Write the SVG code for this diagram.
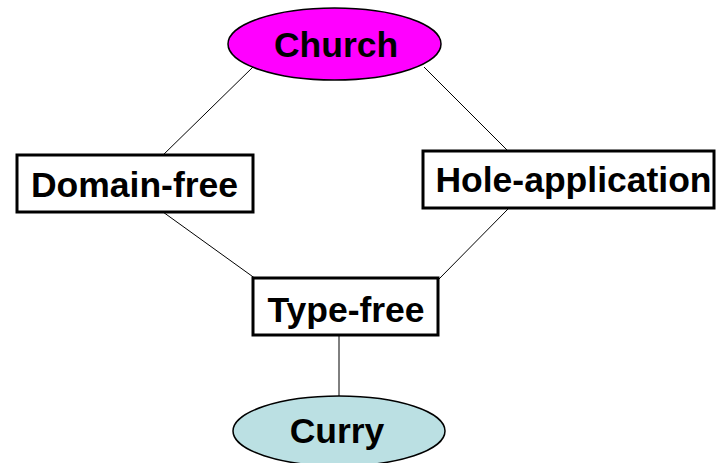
<svg xmlns="http://www.w3.org/2000/svg" width="716" height="463" viewBox="0 0 716 463">
<style>
.lbl{font-family:"Liberation Sans",Arial,sans-serif;font-weight:bold;font-size:35.5px;fill:#000;text-anchor:middle}
.box{fill:#fff;stroke:#000;stroke-width:3}
.ell{stroke:#000;stroke-width:1.5}
.edge{stroke:#000;stroke-width:1;fill:none}
</style>
<rect width="716" height="463" fill="#fff"/>
<g id="connectors">
<line class="edge" x1="253" y1="67" x2="161" y2="157"/>
<line class="edge" x1="424" y1="67" x2="508" y2="151"/>
<line class="edge" x1="163" y1="212" x2="256" y2="279"/>
<line class="edge" x1="508" y1="209" x2="439" y2="279"/>
<line class="edge" x1="339" y1="335" x2="339" y2="396"/>
</g>
<g id="church">
<ellipse class="ell" cx="334.5" cy="44" rx="106.5" ry="36" fill="#FF00FF"/>
<text class="lbl" x="336" y="57">Church</text>
</g>
<g id="domain-free">
<rect class="box" x="17" y="155" width="236" height="57"/>
<text class="lbl" x="134.5" y="197">Domain-free</text>
</g>
<g id="hole-application">
<rect class="box" x="423" y="151" width="291" height="57"/>
<text class="lbl" x="573.5" y="192">Hole-application</text>
</g>
<g id="type-free">
<rect class="box" x="253" y="278" width="185" height="57"/>
<text class="lbl" x="346" y="322">Type-free</text>
</g>
<g id="curry">
<ellipse class="ell" cx="339" cy="431" rx="106" ry="35" fill="#BBE0E3"/>
<text class="lbl" x="337" y="443">Curry</text>
</g>
</svg>
